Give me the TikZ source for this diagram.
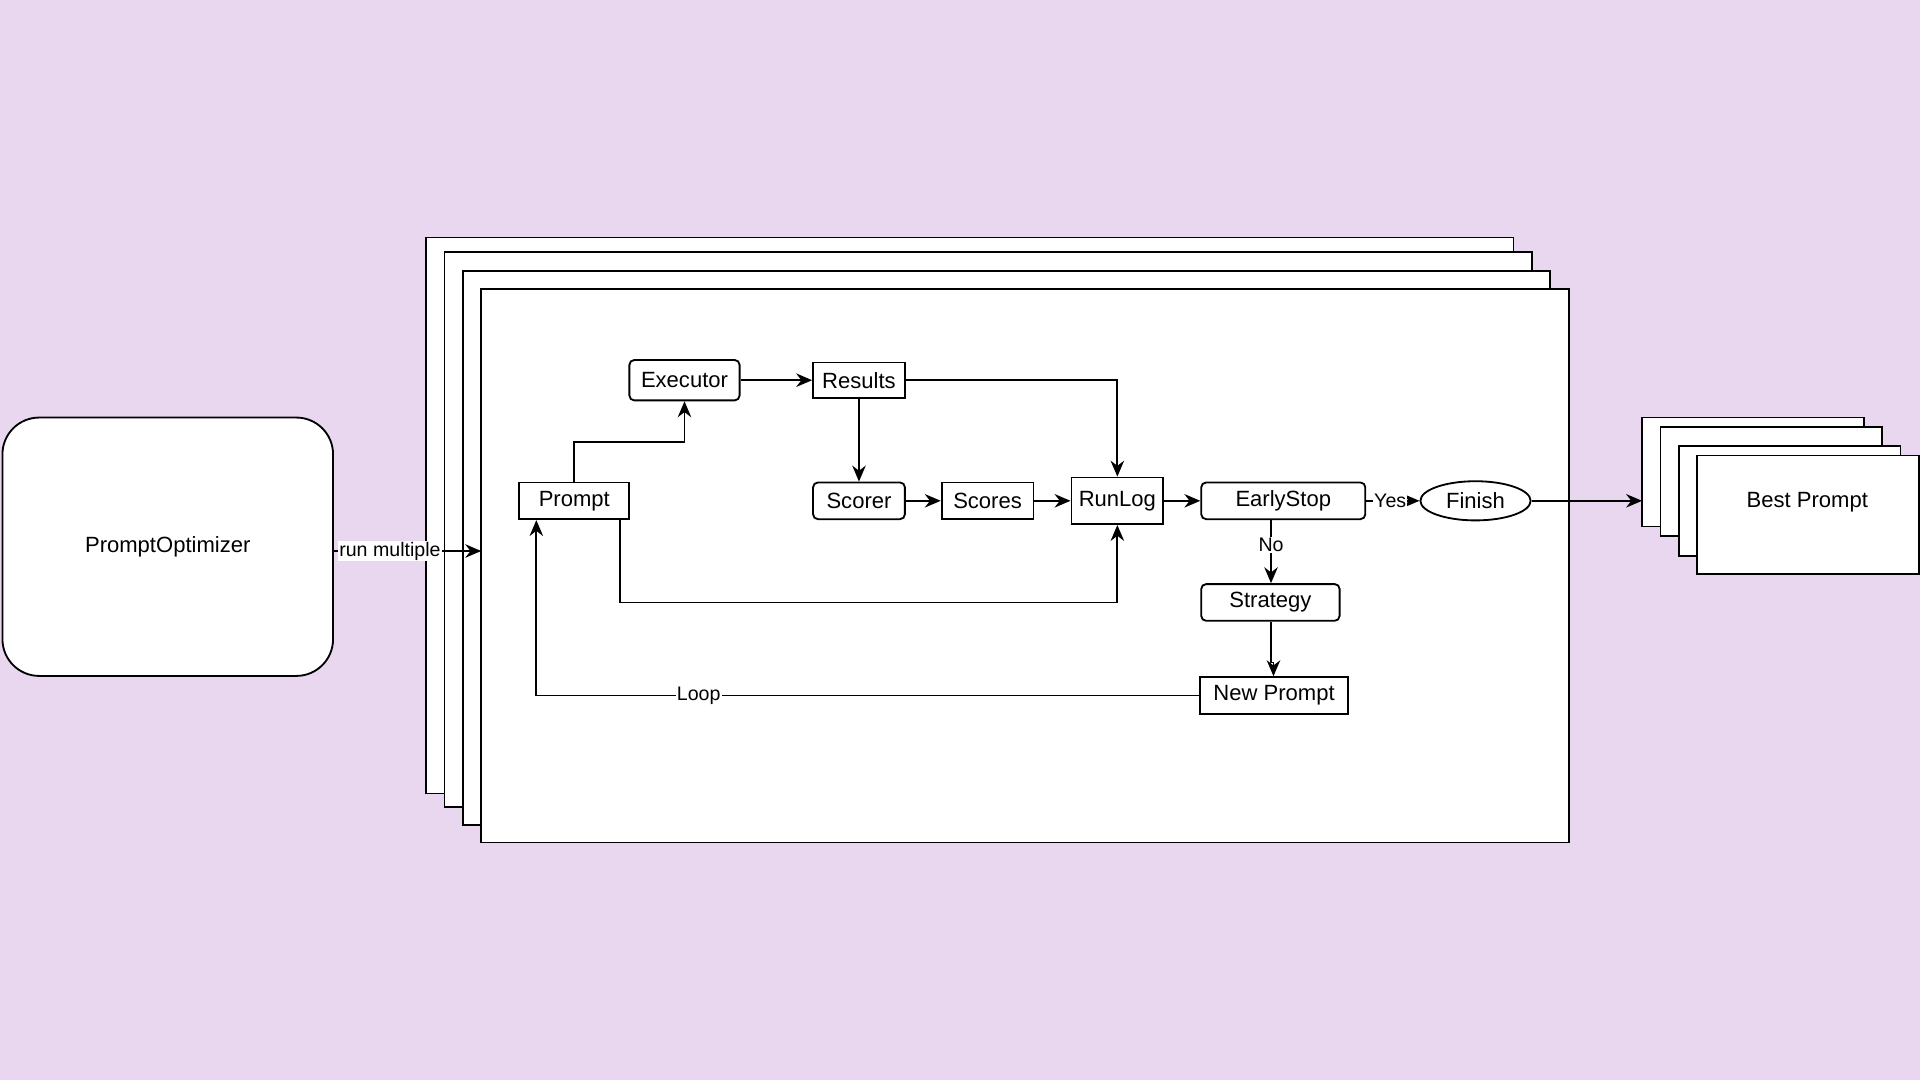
\documentclass[tikz,border=0pt]{standalone}
\usepackage{fontspec}
\setmainfont{Liberation Sans}
\usetikzlibrary{arrows.meta,shapes.geometric}
\definecolor{bg}{HTML}{E8D7EE}
\begin{document}
\begin{tikzpicture}[x=1pt,y=-1pt,
  every node/.style={font=\fontsize{18}{20}\selectfont},
  box/.style={draw,line width=1.5pt,fill=white,inner sep=0pt},
  rbox/.style={box,rounded corners=4pt},
  frame/.style={draw,line width=1.5pt,fill=white},
  arr/.style={-{Stealth[length=13pt,width=11pt]},line width=1.5pt},
  lab/.style={fill=white,inner sep=1pt,font=\fontsize{16}{18}\selectfont}]
\fill[bg] (0,0) rectangle (1568,882);
\useasboundingbox (0,0) rectangle (1568,882);
% frames
\draw[frame] (348,194) rectangle (1236,648);
\draw[frame] (363,206) rectangle (1251,659);
\draw[frame] (378,221) rectangle (1266,674);
\draw[frame] (393,236) rectangle (1281,688);
\coordinate (fin) at (393,450);
% best prompt stack
\draw[frame] (1341,341) rectangle (1522,430);
\draw[frame] (1356,349) rectangle (1537,438);
\draw[frame] (1371,364) rectangle (1552,454);
\draw[frame] (1386,372) rectangle (1567,469);
\node (best) at (1476,410) {Best Prompt};
\coordinate (bestin) at (1341,409);
% optimizer
\node[box,rounded corners=30pt,minimum width=270pt,minimum height=211pt] (opt) at (137,446.5) {PromptOptimizer};
% nodes
\node[rbox,minimum width=90pt,minimum height=33pt] (exe) at (559,310.5) {Executor};
\node[box,minimum width=75pt,minimum height=29pt] (res) at (701.5,310.5) {Results};
\node[box,minimum width=90pt,minimum height=30pt] (prm) at (469,409) {Prompt};
\node[rbox,minimum width=75pt,minimum height=30pt] (scr) at (701.5,409) {Scorer};
\node[box,minimum width=75pt,minimum height=30pt] (scs) at (806.5,409) {Scores};
\node[box,minimum width=75pt,minimum height=38pt] (log) at (912.5,409) {RunLog};
\node[rbox,minimum width=134pt,minimum height=30pt] (es) at (1048,409) {EarlyStop};
\node[draw,ellipse,line width=1.5pt,fill=white,minimum width=90pt,minimum height=32pt,inner sep=0pt] (fn) at (1205,409) {Finish};
\node[rbox,minimum width=113pt,minimum height=30pt] (st) at (1037.5,492) {Strategy};
\node[box,minimum width=121pt,minimum height=30pt] (np) at (1040.5,568) {New Prompt};
% edges
\draw[arr] (opt.east |- fin) -- node[lab,pos=0.38]{run multiple} (fin);
\draw[arr] (prm.north) |- (559,361) -- (exe.south);
\draw[arr] (exe) -- (res);
\draw[arr] (res.east) -| (log.north);
\draw[arr] (res) -- (scr);
\draw[arr] (scr) -- (scs);
\draw[arr] (scs) -- (log);
\draw[arr] (log) -- (es);
\draw[arr] (prm.south -| 506,0) |- (912.5,492) -- (log.south);
\draw[arr] (es) -- node[lab,pos=0.45]{Yes} (fn);
\draw[arr] (fn) -- (bestin);
\draw[arr] (es.south -| 1038,0) -- node[lab,pos=0.4]{No} (st.north -| 1038,0);
\draw[arr] (st.south -| 1038,0) -- (1038,541) -| (np.north -| 1040,0);
\draw[arr] (np.west) -- node[lab,pos=0.755]{Loop} (438,568) -- (prm.south -| 438,0);
\end{tikzpicture}
\end{document}
